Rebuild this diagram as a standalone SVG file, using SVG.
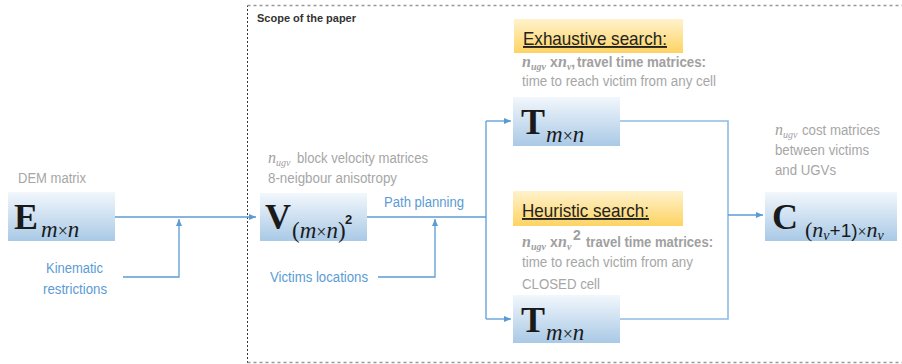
<svg xmlns="http://www.w3.org/2000/svg" width="902" height="364" viewBox="0 0 902 364">
<defs>
<linearGradient id="gb" x1="0" y1="0" x2="0" y2="1">
<stop offset="0" stop-color="#f2f7fc"/>
<stop offset="1" stop-color="#a9c9e6"/>
</linearGradient>
<linearGradient id="gy" x1="0" y1="0" x2="0" y2="1">
<stop offset="0" stop-color="#fff2cc"/>
<stop offset="1" stop-color="#fdd363"/>
</linearGradient>
<marker id="ah" markerWidth="8" markerHeight="8" refX="7" refY="4" orient="auto" markerUnits="userSpaceOnUse">
<path d="M0,1 L7,4 L0,7 Z" fill="#5b9bd5"/>
</marker>
</defs>
<style>
.box{fill:url(#gb)}
.ybox{fill:url(#gy)}
.ln{fill:none;stroke:#5b9bd5;stroke-width:1.3}
.ln2{fill:none;stroke:#8fbbe3;stroke-width:1.6}
.g{font-family:"Liberation Sans",Arial,sans-serif;font-size:14px;fill:#a6a6a6}
.gb{font-family:"Liberation Sans",Arial,sans-serif;font-size:14px;fill:#a0a0a0;font-weight:bold}
.bl{font-family:"Liberation Sans",Arial,sans-serif;font-size:14px;fill:#5b9bd5}
.big{font-family:"Liberation Serif","Times New Roman",serif;font-weight:bold;font-size:36px;fill:#1a1a1a}
.sub{font-family:"Liberation Serif","Times New Roman",serif;font-style:italic;font-size:23px;fill:#1a1a1a}
.ni{font-family:"Liberation Serif","Times New Roman",serif;font-style:italic;font-size:16px;fill:#a0a0a0}
.ns{font-family:"Liberation Serif","Times New Roman",serif;font-style:italic;font-size:10px;fill:#a0a0a0}
.hd{font-family:"Liberation Sans",Arial,sans-serif;font-size:19px;fill:#222;text-decoration:underline}
.sc{font-family:"Liberation Sans",Arial,sans-serif;font-size:11px;font-weight:bold;fill:#333}
</style>
<rect width="902" height="364" fill="#ffffff"/>

<g id="scope">
<path d="M247.5,363 V5.5" fill="none" stroke="#333" stroke-width="1" stroke-dasharray="2,2"/>
<path d="M247.5,5.5 H902 M247.5,362.5 H902" fill="none" stroke="#999" stroke-width="1.3" stroke-dasharray="3,3"/>
<text class="sc" x="257" y="22">Scope of the paper</text>
</g>

<g id="connectors">
<path class="ln" d="M115,217 H256" marker-end="url(#ah)"/>
<path class="ln" d="M123,277 H179 V219" marker-end="url(#ah)"/>
<path class="ln" d="M367,217 H486"/>
<path class="ln" d="M378,277 H435 V219" marker-end="url(#ah)"/>
<path class="ln" d="M486,121 V319"/>
<path class="ln" d="M486,121 H511" marker-end="url(#ah)"/>
<path class="ln" d="M486,319 H511" marker-end="url(#ah)"/>
<path class="ln2" d="M620,121 H728 V319 H620"/>
<path class="ln" d="M728,215 H763" marker-end="url(#ah)"/>
</g>

<g id="E">
<text class="g" x="18" y="183" textLength="68" lengthAdjust="spacingAndGlyphs">DEM matrix</text>
<rect class="box" x="8" y="192" width="107" height="49"/>
<text class="big" x="14" y="229">E</text>
<text class="sub" x="41" y="237">m<tspan font-style="normal" font-size="18">×</tspan>n</text>
</g>

<g id="kinematic">
<text class="bl" x="46" y="273" textLength="57" lengthAdjust="spacingAndGlyphs">Kinematic</text>
<text class="bl" x="43" y="294" textLength="64" lengthAdjust="spacingAndGlyphs">restrictions</text>
</g>

<g id="V">
<text x="268" y="163"><tspan class="ni">n</tspan><tspan class="ns" dy="3">ugv</tspan></text>
<text class="g" x="297" y="163" textLength="131" lengthAdjust="spacingAndGlyphs">block velocity matrices</text>
<text class="g" x="268" y="183" textLength="129" lengthAdjust="spacingAndGlyphs">8-neigbour anisotropy</text>
<rect class="box" x="260" y="193" width="107" height="48"/>
<text class="big" x="265" y="229">V</text>
<text class="sub" x="292" y="238"><tspan font-style="normal">(</tspan>m<tspan font-style="normal" font-size="18">×</tspan>n<tspan font-style="normal">)</tspan></text>
<text x="345" y="224" font-family="'Liberation Sans',Arial,sans-serif" font-weight="bold" font-size="13" fill="#1a1a1a">2</text>
</g>

<g id="path-planning">
<text class="bl" x="384" y="207" textLength="80" lengthAdjust="spacingAndGlyphs">Path planning</text>
</g>

<g id="victims">
<text class="bl" x="270" y="282" textLength="98" lengthAdjust="spacingAndGlyphs">Victims locations</text>
</g>

<g id="exhaustive">
<rect class="ybox" x="514" y="19" width="169" height="34"/>
<text class="hd" x="523" y="45" textLength="144" lengthAdjust="spacingAndGlyphs">Exhaustive search:</text>
<text x="522" y="67"><tspan class="ni" font-weight="bold">n</tspan><tspan class="ns" font-weight="bold" dy="3">ugv</tspan><tspan class="gb" font-size="9" dy="-3" x="550">x</tspan><tspan class="ni" font-weight="bold" x="558">n</tspan><tspan class="ns" font-weight="bold" dy="3">v</tspan><tspan class="gb" dy="-3">,</tspan></text>
<text class="gb" x="577" y="67" textLength="129" lengthAdjust="spacingAndGlyphs">travel time matrices:</text>
<text class="g" x="522" y="86" textLength="194" lengthAdjust="spacingAndGlyphs">time to reach victim from any cell</text>
</g>

<g id="T1">
<rect class="box" x="513" y="97" width="107" height="49"/>
<text class="big" x="521" y="134">T</text>
<text class="sub" x="546" y="142">m<tspan font-style="normal" font-size="18">×</tspan>n</text>
</g>

<g id="heuristic">
<rect class="ybox" x="513" y="191" width="170" height="35"/>
<text class="hd" x="522" y="217" textLength="127" lengthAdjust="spacingAndGlyphs">Heuristic search:</text>
<text x="522" y="247"><tspan class="ni" font-weight="bold">n</tspan><tspan class="ns" font-weight="bold" dy="3">ugv</tspan><tspan class="gb" font-size="9" dy="-3" x="550">x</tspan><tspan class="ni" font-weight="bold" x="558">n</tspan><tspan class="ns" font-weight="bold" dy="3">v</tspan><tspan class="gb" font-size="12" x="573" dy="-10">2</tspan></text>
<text class="gb" x="586" y="247" textLength="127" lengthAdjust="spacingAndGlyphs">travel time matrices:</text>
<text class="g" x="522" y="267" textLength="171" lengthAdjust="spacingAndGlyphs">time to reach victim from any</text>
<text class="g" x="522" y="289" textLength="78" lengthAdjust="spacingAndGlyphs">CLOSED cell</text>
</g>

<g id="T2">
<rect class="box" x="513" y="295" width="107" height="48"/>
<text class="big" x="521" y="332">T</text>
<text class="sub" x="546" y="340">m<tspan font-style="normal" font-size="18">×</tspan>n</text>
</g>

<g id="C">
<text x="775" y="135"><tspan class="ni">n</tspan><tspan class="ns" dy="3">ugv</tspan></text>
<text class="g" x="802" y="135" textLength="78" lengthAdjust="spacingAndGlyphs">cost matrices</text>
<text class="g" x="775" y="155" textLength="94" lengthAdjust="spacingAndGlyphs">between victims</text>
<text class="g" x="775" y="175" textLength="61" lengthAdjust="spacingAndGlyphs">and UGVs</text>
<rect class="box" x="765" y="192" width="132" height="49"/>
<text class="big" x="772" y="229">C</text>
<text x="805" y="237" font-family="'Liberation Serif','Times New Roman',serif" font-size="22" fill="#1a1a1a">(<tspan font-style="italic">n</tspan><tspan font-style="italic" font-size="14" dy="3">v</tspan><tspan dy="-3" font-family="'Liberation Sans',Arial,sans-serif" font-size="19">+1)</tspan><tspan font-size="16">×</tspan><tspan font-style="italic">n</tspan><tspan font-style="italic" font-size="14" dy="3">v</tspan></text>
</g>
</svg>
